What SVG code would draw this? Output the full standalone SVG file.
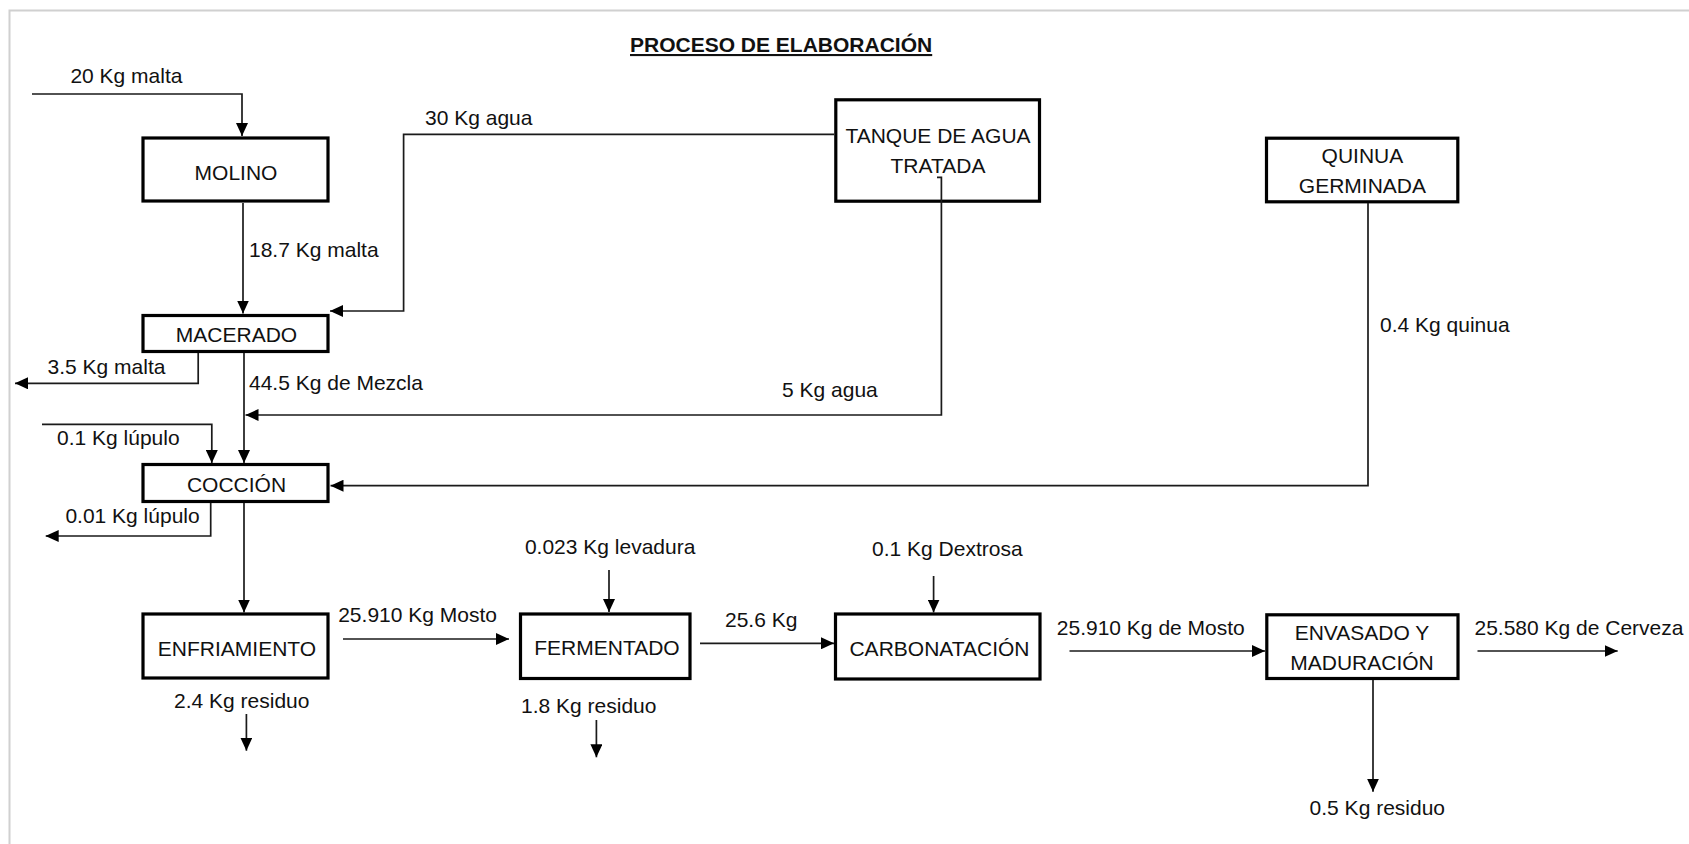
<svg xmlns="http://www.w3.org/2000/svg" width="1689" height="844" viewBox="0 0 1689 844">
<style>
text{font-family:"Liberation Sans",Arial,sans-serif;font-size:21px;fill:#111}
.node rect{fill:#fff;stroke:#000;stroke-width:3.2}
.node text{text-anchor:middle}
.c path{fill:none;stroke:#1a1a1a;stroke-width:1.7;marker-end:url(#ah)}
.title{font-weight:bold;text-decoration:underline}
</style>
<defs>
<marker id="ah" viewBox="0 0 13 12" refX="13" refY="6" markerWidth="13" markerHeight="12" markerUnits="userSpaceOnUse" orient="auto">
<path d="M0,0 L13,6 L0,12 z" fill="#000"/>
</marker>
</defs>
<rect width="1689" height="844" fill="#fff"/>
<path d="M9.5 844 V10.5 H1689" fill="none" stroke="#d0d0d0" stroke-width="2"/>
<text class="title" x="630" y="52">PROCESO DE ELABORACIÓN</text>

<g id="molino" class="node"><rect x="143" y="138" width="185" height="63"/><text x="236" y="180">MOLINO</text></g>
<g id="macerado" class="node"><rect x="143" y="315.5" width="185" height="36"/><text x="236.5" y="341.7">MACERADO</text></g>
<g id="coccion" class="node"><rect x="143" y="464.5" width="185" height="37"/><text x="236.5" y="491.7">COCCIÓN</text></g>
<g id="enfriamiento" class="node"><rect x="143" y="614" width="185" height="64"/><text x="237" y="656">ENFRIAMIENTO</text></g>
<g id="fermentado" class="node"><rect x="520.5" y="614" width="169.5" height="64.5"/><text x="607" y="655">FERMENTADO</text></g>
<g id="carbonatacion" class="node"><rect x="835.5" y="614" width="204.5" height="65"/><text x="939.5" y="656">CARBONATACIÓN</text></g>
<g id="envasado" class="node"><rect x="1266.8" y="614.8" width="191.2" height="63.7"/><text x="1362" y="640">ENVASADO Y</text><text x="1362" y="670">MADURACIÓN</text></g>
<g id="tanque" class="node"><rect x="835.8" y="99.8" width="203.7" height="101.4"/><text x="938" y="143.3">TANQUE DE AGUA</text><text x="938" y="173.3">TRATADA</text></g>
<g id="quinua" class="node"><rect x="1266.5" y="138.2" width="191.3" height="63.6"/><text x="1362.4" y="163.3">QUINUA</text><text x="1362.4" y="193.3">GERMINADA</text></g>

<g id="connectors" class="c">
<path d="M32 94 H242 V136"/>
<path d="M243 203 V313.5"/>
<path d="M834 134.3 H403.6 V311 H330"/>
<path d="M198.2 353 V383.3 H15"/>
<path d="M244 353 V463"/>
<path d="M937 177.3 H941.4 V415 H245.5"/>
<path d="M42 424.3 H211.8 V463"/>
<path d="M1368 203 V485.7 H330.5"/>
<path d="M210.7 503 V536 H45.7"/>
<path d="M244 503 V612.5"/>
<path d="M343 639 H509"/>
<path d="M246.4 714 V750.7"/>
<path d="M609 570 V612"/>
<path d="M700 643.3 H834"/>
<path d="M596.4 720 V757.3"/>
<path d="M933.6 576 V612.5"/>
<path d="M1069.5 651 H1265"/>
<path d="M1477.5 651 H1617.7"/>
<path d="M1373 680 V791.7"/>
</g>

<g id="labels">
<text x="70.4" y="82.7">20 Kg malta</text>
<text x="249" y="257.3">18.7 Kg malta</text>
<text x="425" y="125">30 Kg agua</text>
<text x="47.5" y="374.3">3.5 Kg malta</text>
<text x="249" y="390">44.5 Kg de Mezcla</text>
<text x="782" y="396.7">5 Kg agua</text>
<text x="57" y="445">0.1 Kg lúpulo</text>
<text x="1380" y="331.7">0.4 Kg quinua</text>
<text x="65.4" y="523.3">0.01 Kg lúpulo</text>
<text x="338.2" y="621.7">25.910 Kg Mosto</text>
<text x="174" y="708.3">2.4 Kg residuo</text>
<text x="524.9" y="554.3">0.023 Kg levadura</text>
<text x="725" y="627.3">25.6 Kg</text>
<text x="521" y="712.7">1.8 Kg residuo</text>
<text x="872" y="556">0.1 Kg Dextrosa</text>
<text x="1056.8" y="635">25.910 Kg de Mosto</text>
<text x="1474.5" y="635">25.580 Kg de Cerveza</text>
<text x="1309.6" y="815">0.5 Kg residuo</text>
</g>
</svg>
